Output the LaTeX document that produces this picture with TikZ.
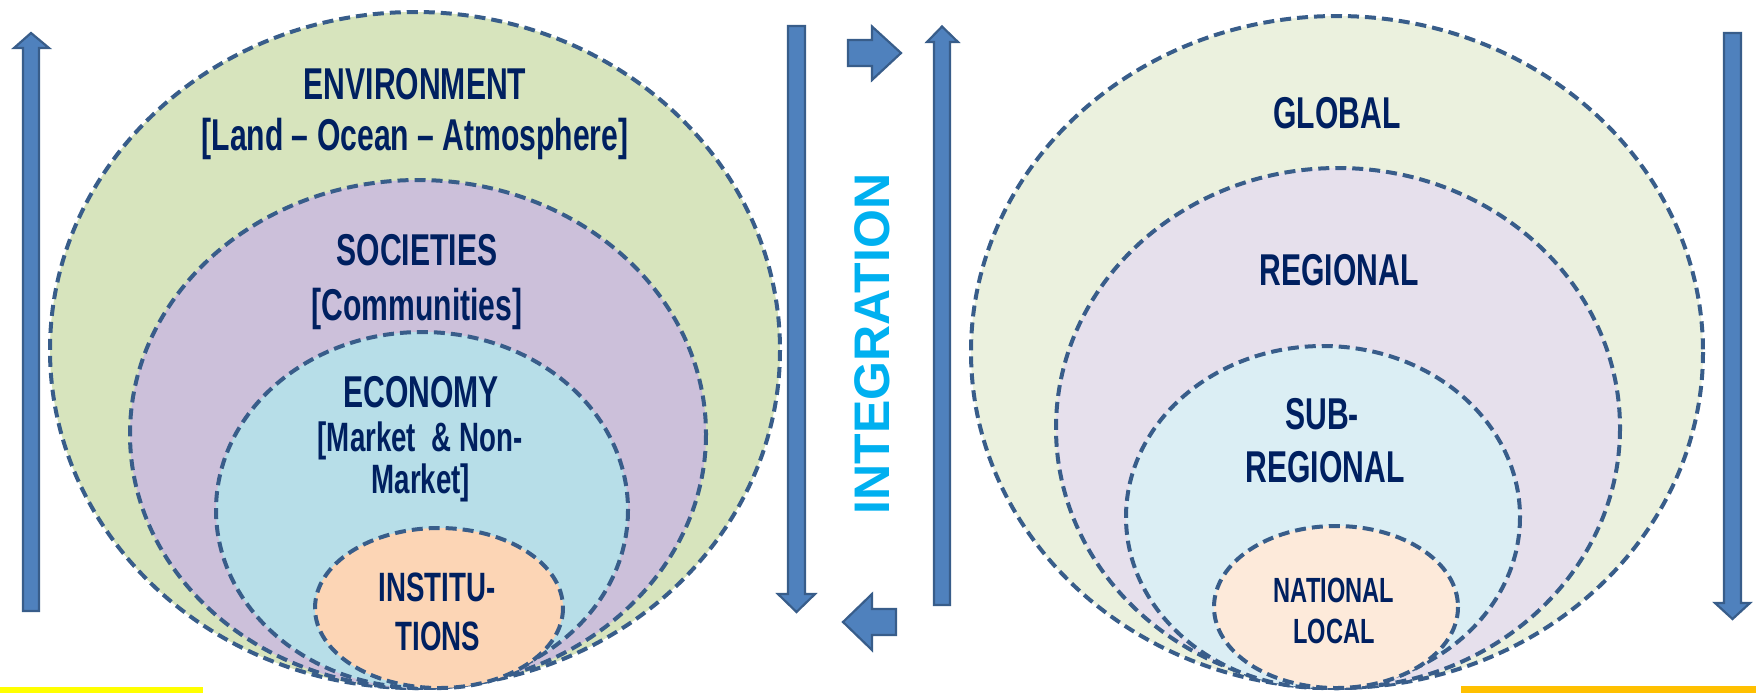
\documentclass[tikz,border=0pt]{standalone}
\usepackage{fontspec}
\setmainfont{Liberation Sans}
\newfontfamily\agencyfont[FakeStretch=0.675, Ligatures=TeX]{Liberation Sans}
\definecolor{txtnavy}{HTML}{002060}
\definecolor{dashblue}{HTML}{385D8A}
\definecolor{arrowfill}{HTML}{4F81BD}
\definecolor{integcyan}{HTML}{00B0F0}
\definecolor{lgreen}{HTML}{D7E4BD}
\definecolor{lpurple}{HTML}{CCC0DA}
\definecolor{lblue}{HTML}{B7DEE8}
\definecolor{lorange}{HTML}{FCD5B5}
\definecolor{rgreen}{HTML}{EBF1DE}
\definecolor{rpurple}{HTML}{E6E0EC}
\definecolor{rblue}{HTML}{DBEEF4}
\definecolor{rorange}{HTML}{FDEADA}
\definecolor{barYellow}{HTML}{FFFF00}
\definecolor{barGold}{HTML}{FFC000}
\tikzset{
  ring/.style={draw=dashblue, line width=2pt, dash pattern=on 5.5pt off 3pt},
  blockarrow/.style={fill=arrowfill, draw=dashblue, line width=1.1pt, line join=miter},
  bigtxt/.style={text=txtnavy, inner sep=0pt, anchor=base, font=\agencyfont\bfseries\fontsize{22.3}{26}\selectfont},
  midtxt/.style={text=txtnavy, inner sep=0pt, anchor=base, font=\agencyfont\bfseries\fontsize{20.5}{24}\selectfont},
  smalltxt/.style={text=txtnavy, inner sep=0pt, anchor=base, font=\agencyfont\bfseries\fontsize{17.5}{21}\selectfont},
}
\begin{document}
\begin{tikzpicture}[x=0.5pt,y=-0.5pt]
\useasboundingbox (0,0) rectangle (1756,693);
% bottom bars
\fill[barYellow] (0,687) rectangle (203,693);
\fill[barGold] (1461,686) rectangle (1756,693);
% left nested ellipses
\filldraw[ring, fill=lgreen] (415,350) ellipse [x radius=365, y radius=338];
\filldraw[ring, fill=lpurple] (418,434) ellipse [x radius=288, y radius=254];
\filldraw[ring, fill=lblue] (422,510) ellipse [x radius=206, y radius=178];
\filldraw[ring, fill=lorange] (439,608) ellipse [x radius=124, y radius=80];
% right nested ellipses
\filldraw[ring, fill=rgreen] (1337,352) ellipse [x radius=366, y radius=336];
\filldraw[ring, fill=rpurple] (1338,428) ellipse [x radius=282, y radius=260];
\filldraw[ring, fill=rblue] (1323,517) ellipse [x radius=197, y radius=171];
\filldraw[ring, fill=rorange] (1336,607) ellipse [x radius=122, y radius=81];
% left texts
\node[bigtxt] (env) at (415,99) {ENVIRONMENT};
\node[bigtxt] (land) at (415,150) {[Land – Ocean – Atmosphere]};
\node[bigtxt] (soc) at (417,265) {SOCIETIES};
\node[bigtxt] (comm) at (417,320) {[Communities]};
\node[bigtxt] (econ) at (421,407) {ECONOMY};
\node[midtxt] (mkt1) at (420,451) {[Market \ \& Non-};
\node[midtxt] (mkt2) at (421,493) {Market]};
\node[midtxt] (inst1) at (437,601) {INSTITU-};
\node[midtxt] (inst2) at (438,650) {TIONS};
% right texts
\node[bigtxt] (glob) at (1337,128) {GLOBAL};
\node[bigtxt] (reg) at (1339,285) {REGIONAL};
\node[bigtxt] (sub1) at (1322,429) {SUB-};
\node[bigtxt] (sub2) at (1325,482) {REGIONAL};
\node[smalltxt] (nat) at (1334,602) {NATIONAL};
\node[smalltxt] (loc) at (1334,643) {LOCAL};
% integration
\node[text=integcyan, rotate=90, inner sep=0pt, font=\bfseries\fontsize{25}{30}\selectfont] (integ) at (872,344) {INTEGRATION};
% long vertical arrows
\filldraw[blockarrow] (23,611) -- (23,48) -- (14,48) -- (31,33) -- (49,48) -- (39,48) -- (39,611) -- cycle;
\filldraw[blockarrow] (788,26) -- (788,594) -- (778,594) -- (796.5,612) -- (815,594) -- (805,594) -- (805,26) -- cycle;
\filldraw[blockarrow] (934,605) -- (934,42) -- (927,42) -- (942,26.5) -- (958,42) -- (950,42) -- (950,605) -- cycle;
\filldraw[blockarrow] (1724,33) -- (1724,603) -- (1715,603) -- (1732.5,619) -- (1750,603) -- (1741,603) -- (1741,33) -- cycle;
% short block arrows
\filldraw[blockarrow] (848,40) -- (872,40) -- (872,26.5) -- (901,53) -- (872,80) -- (872,66) -- (848,66) -- cycle;
\filldraw[blockarrow] (896,609) -- (872,609) -- (872,594) -- (843,622) -- (872,650) -- (872,635) -- (896,635) -- cycle;
\end{tikzpicture}
\end{document}
